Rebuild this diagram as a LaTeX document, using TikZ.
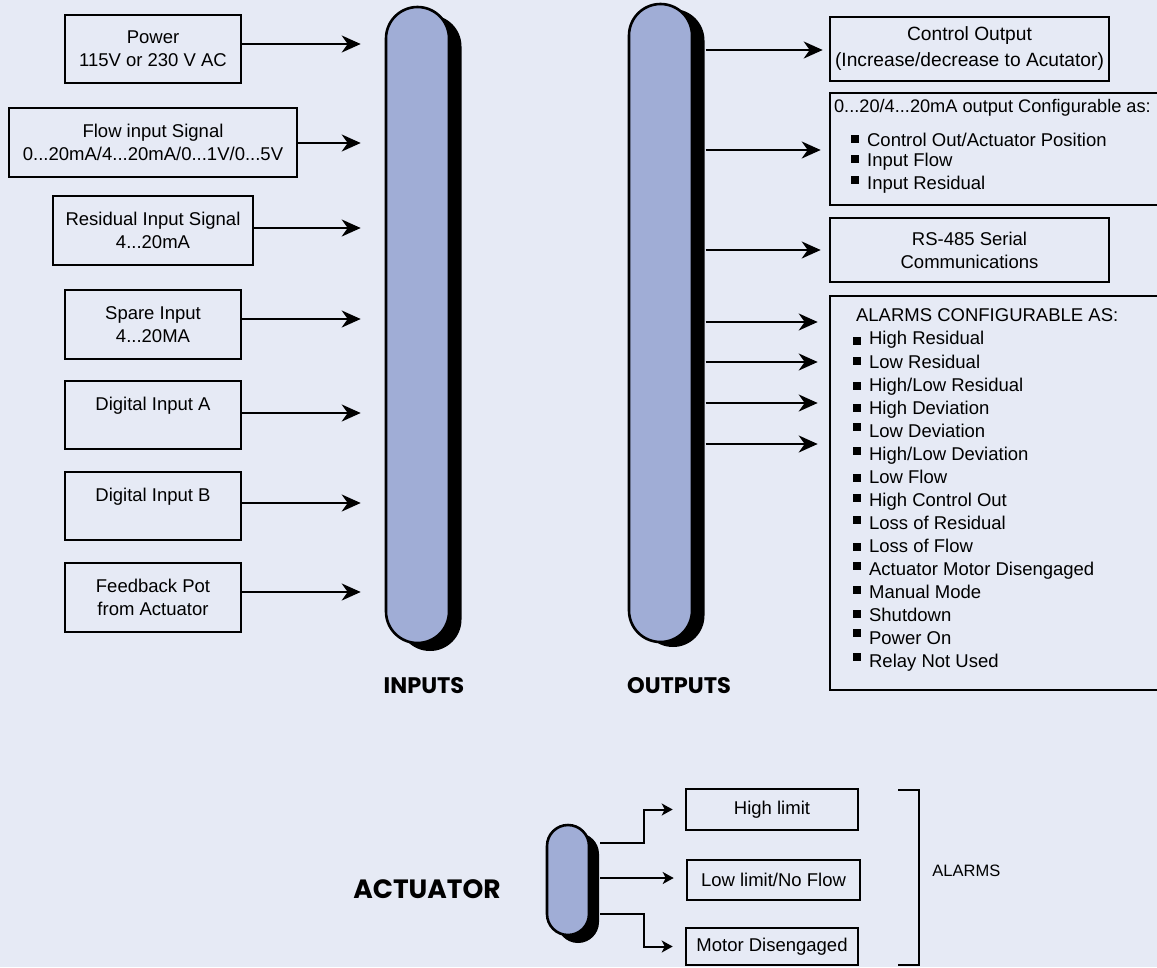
\documentclass[tikz,border=0pt]{standalone}
\usepackage{fontspec}
\setmainfont{Liberation Sans}
\newfontfamily\capfont{Poppins}
\usetikzlibrary{arrows.meta,calc}
\definecolor{bgblue}{HTML}{E6EAF5}
\definecolor{pillblue}{HTML}{A0ADD6}
\newcommand{\bul}[1]{\raisebox{#1pt}{\rule{8pt}{8pt}}\hspace{8pt}}

\begin{document}
\begin{tikzpicture}
[x=1pt, y=-1pt, line width=2.2pt, >={Stealth[length=19pt,width=17pt,inset=6pt]},
inbox/.style={rectangle, draw, line width=2.6pt, inner sep=0pt, align=center, font=\fontsize{18.5}{23}\selectfont},
pill/.style={rectangle, draw, line width=2.6pt, fill=pillblue, rounded corners=31.5pt, inner sep=0pt},
pillsh/.style={rectangle, fill=black, rounded corners=31.5pt, inner sep=0pt},
item/.style={anchor=base west, inner sep=0pt, font=\fontsize{18.5}{23}\selectfont},
caption/.style={font=\capfont\bfseries\fontsize{22.5}{26}\selectfont},
sarr/.style={-{Stealth[length=11pt,width=12pt,inset=3pt]}, line width=2pt}]

\useasboundingbox[fill=bgblue] (0,0) rectangle (1157,967);

\node[pillsh, minimum width=63pt, minimum height=636pt] (insh) at (430,333) {};
\node[pill, minimum width=63pt, minimum height=636pt] (inbar) at (417.5,325) {};
\node[pillsh, minimum width=63pt, minimum height=638pt] (outsh) at (673,328) {};
\node[pill, minimum width=63pt, minimum height=638pt] (outbar) at (660.5,323) {};

\node[inbox, minimum width=176pt, minimum height=68pt] (pwr) at (153,49) {Power\\115V or 230 V AC};
\node[inbox, minimum width=288pt, minimum height=69pt] (flw) at (153,142.5) {Flow input Signal\\0...20mA/4...20mA/0...1V/0...5V};
\node[inbox, minimum width=200pt, minimum height=69pt] (res) at (153,230.5) {Residual Input Signal\\4...20mA};
\node[inbox, minimum width=176pt, minimum height=69pt] (spr) at (153,324.5) {Spare Input\\4...20MA};
\node[inbox, minimum width=176pt, minimum height=68pt] (diga) at (153,415) {Digital Input A\\\mbox{}};
\node[inbox, minimum width=176pt, minimum height=68pt] (digb) at (153,506) {Digital Input B\\\mbox{}};
\node[inbox, minimum width=176pt, minimum height=69pt] (fdb) at (153,597.5) {Feedback Pot\\from Actuator};

\draw[->, shorten >=24pt] (pwr.east |- 0,44) -- (inbar.west |- 0,44);
\draw[->, shorten >=24pt] (flw.east |- 0,143) -- (inbar.west |- 0,143);
\draw[->, shorten >=24pt] (res.east |- 0,228) -- (inbar.west |- 0,228);
\draw[->, shorten >=24pt] (spr.east |- 0,319) -- (inbar.west |- 0,319);
\draw[->, shorten >=24pt] (diga.east |- 0,413) -- (inbar.west |- 0,413);
\draw[->, shorten >=24pt] (digb.east |- 0,503) -- (inbar.west |- 0,503);
\draw[->, shorten >=24pt] (fdb.east |- 0,592) -- (inbar.west |- 0,592);

\node[inbox, minimum width=279pt, minimum height=64pt, font=\fontsize{19.2}{26}\selectfont] (ctl) at (969.5,49) {Control Output\\(Increase/decrease to Acutator)};
\node[inbox, minimum width=340pt, minimum height=112pt] (cfg) at (1000,149) {};
\node[inbox, minimum width=279pt, minimum height=64pt] (rs) at (969.5,250) {RS-485 Serial\\Communications};
\node[inbox, minimum width=340pt, minimum height=394pt] (alm) at (1000,493) {};

\node[item, font=\fontsize{18.2}{23}\selectfont] (cfg0) at (833,112) {0...20/4...20mA output Configurable as:};
\node[item] (cfg1) at (850,146.5) {\bul{3.5}Control Out/Actuator Position};
\node[item] (cfg2) at (850,166.5) {\bul{3.5}Input Flow};
\node[item] (cfg3) at (850,189.5) {\bul{5.5}Input Residual};

\node[item] (alm0) at (855,321.5) {ALARMS CONFIGURABLE AS:};
\node[item] (alm1) at (852,344.5) {\bul{0}High Residual};
\node[item] (alm2) at (852,368.5) {\bul{3.5}Low Residual};
\node[item] (alm3) at (852,391.5) {\bul{2}High/Low Residual};
\node[item] (alm4) at (852,414.5) {\bul{3}High Deviation};
\node[item] (alm5) at (852,437.5) {\bul{7}Low Deviation};
\node[item] (alm6) at (852,460.5) {\bul{5.5}High/Low Deviation};
\node[item] (alm7) at (852,483.5) {\bul{2}Low Flow};
\node[item] (alm8) at (852,506.5) {\bul{5}High Control Out};
\node[item] (alm9) at (852,529.5) {\bul{5.5}Loss of Residual};
\node[item] (alm10) at (852,552.5) {\bul{2}Loss of Flow};
\node[item] (alm11) at (852,575.5) {\bul{5.5}Actuator Motor Disengaged};
\node[item] (alm12) at (852,598.5) {\bul{5}Manual Mode};
\node[item] (alm13) at (852,621.5) {\bul{4}Shutdown};
\node[item] (alm14) at (852,644.5) {\bul{8}Power On};
\node[item] (alm15) at (852,667.5) {\bul{7}Relay Not Used};

\draw[->, shorten >=6pt] (outsh.east |- 0,50) -- (ctl.west |- 0,50);
\draw[->, shorten >=8pt] (outsh.east |- 0,150) -- (cfg.west |- 0,150);
\draw[->, shorten >=8pt] (outsh.east |- 0,250) -- (rs.west |- 0,250);
\draw[->, shorten >=11pt] (outsh.east |- 0,322) -- (alm.west |- 0,322);
\draw[->, shorten >=11pt] (outsh.east |- 0,362) -- (alm.west |- 0,362);
\draw[->, shorten >=11pt] (outsh.east |- 0,403) -- (alm.west |- 0,403);
\draw[->, shorten >=11pt] (outsh.east |- 0,444) -- (alm.west |- 0,444);

\node[caption] (inlbl) at (424,686) {INPUTS};
\node[caption] (outlbl) at (679,686) {OUTPUTS};

\node[pillsh, minimum width=42pt, minimum height=110pt, rounded corners=21pt] (actsh) at (578,888) {};
\node[pill, minimum width=42pt, minimum height=110pt, rounded corners=21pt] (act) at (568,880) {};
\node[caption, font=\capfont\bfseries\fontsize{26.5}{30}\selectfont] (actlbl) at (427,889) {ACTUATOR};

\node[inbox, minimum width=172pt, minimum height=41pt] (hilim) at (772,809.5) {High limit};
\node[inbox, minimum width=173pt, minimum height=40pt] (lolim) at (773.5,880) {Low limit/No Flow};
\node[inbox, minimum width=172pt, minimum height=37pt] (motor) at (772,946.5) {Motor Disengaged};

\draw[sarr, shorten >=12pt] (actsh.east |- 0,843) -- ++(44,0) |- (hilim.west);
\draw[sarr, shorten >=12pt] (actsh.east |- 0,878) -- (lolim.west |- 0,878);
\draw[sarr, shorten >=12pt] (actsh.east |- 0,914) -- ++(44,0) |- (motor.west);

\draw (898,790) -| (919,965) -- (898,965);
\node[anchor=west, font=\fontsize{16.5}{19}\selectfont] (almlbl) at (928,871) {ALARMS};

\end{tikzpicture}
\end{document}
